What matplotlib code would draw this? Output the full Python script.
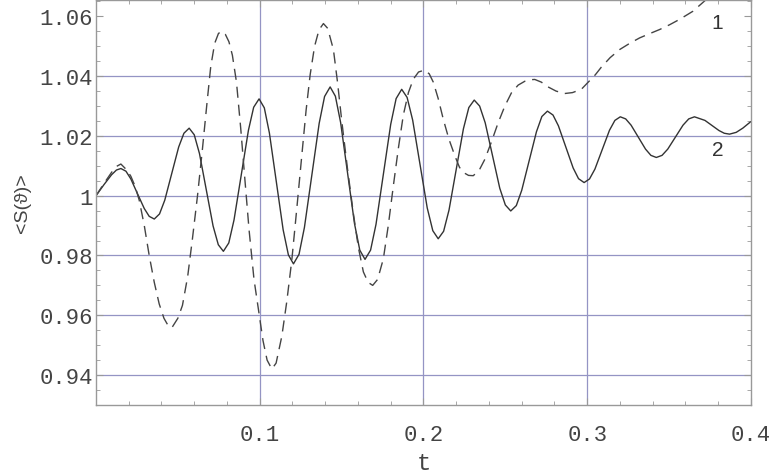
import matplotlib
matplotlib.use("Agg")
import matplotlib.pyplot as plt
from matplotlib.ticker import MultipleLocator

# curve 2 (solid)
t_solid = [0.0, 0.005, 0.0095, 0.0125, 0.0152,
           0.0183, 0.0213, 0.0254, 0.0295, 0.0325, 0.0356,
           0.0388, 0.0420, 0.04625, 0.0505, 0.0537, 0.0569,
           0.0600, 0.0632, 0.06735, 0.0715, 0.0747, 0.0778,
           0.0811, 0.0843, 0.0887, 0.0931, 0.0963, 0.0996,
           0.1028, 0.1059, 0.1101, 0.1143, 0.1175, 0.1206,
           0.1240, 0.1273, 0.1318, 0.1363, 0.1396, 0.1430,
           0.1462, 0.1494, 0.15365, 0.1579, 0.1611, 0.1643,
           0.1677, 0.1710, 0.1755, 0.1800, 0.1833, 0.1867,
           0.1900, 0.1934, 0.19785, 0.2023, 0.2057, 0.2090,
           0.2123, 0.2156, 0.2200, 0.2244, 0.2277, 0.2310,
           0.2343, 0.2377, 0.24215, 0.2466, 0.2500, 0.2533,
           0.2567, 0.2600, 0.2645, 0.2690, 0.2723, 0.2757,
           0.2791, 0.2824, 0.2869, 0.2914, 0.2947, 0.2981,
           0.3014, 0.3047, 0.30915, 0.3136, 0.3169, 0.3202,
           0.3235, 0.3268, 0.3312, 0.3356, 0.3389, 0.3422,
           0.3457, 0.3492, 0.35385, 0.3585, 0.3620, 0.3655,
           0.3719, 0.3762, 0.3805, 0.3837, 0.3869,
           0.3910, 0.3950, 0.3997]
s_solid = [1.0, 1.0038, 1.0070, 1.0086, 1.0091,
           1.0082, 1.0056, 1.0006, 0.9957, 0.9931, 0.9922,
           0.9939, 0.9985, 1.0074, 1.0163, 1.0209, 1.0226,
           1.0204, 1.0141, 1.0020, 0.9899, 0.9836, 0.9814,
           0.9842, 0.9919, 1.0069, 1.0219, 1.0296, 1.0324,
           1.0294, 1.0210, 1.0048, 0.9886, 0.9802, 0.9772,
           0.9804, 0.9894, 1.0068, 1.0242, 1.0332, 1.0364,
           1.0333, 1.0245, 1.00755, 0.9906, 0.9818, 0.9787,
           0.9818, 0.9904, 1.00715, 1.0239, 1.0325, 1.0356,
           1.0329, 1.0253, 1.0106, 0.9959, 0.9883, 0.9856,
           0.9881, 0.9952, 1.0088, 1.0224, 1.0295, 1.0320,
           1.0300, 1.0244, 1.01345, 1.0025, 0.9969, 0.9949,
           0.9967, 1.0018, 1.0116, 1.0214, 1.0265, 1.0283,
           1.0270, 1.0234, 1.01635, 1.0093, 1.0057, 1.0044,
           1.0056, 1.0089, 1.0154, 1.0219, 1.0252, 1.0264,
           1.0257, 1.0236, 1.0196, 1.0156, 1.0135, 1.0128,
           1.0135, 1.0156, 1.0196, 1.0236, 1.0257, 1.0264,
           1.0252, 1.0235, 1.0218, 1.0209, 1.0206,
           1.0212, 1.0226, 1.0247]

# curve 1 (dashed)
t_dash = [0.0, 0.005, 0.0095, 0.0125, 0.0152,
          0.0190, 0.0213, 0.0240, 0.0264, 0.0295, 0.0325, 0.0356, 0.0386,
          0.0415, 0.0440, 0.0463,
          0.0500, 0.0528, 0.0560, 0.0589, 0.0620, 0.0650, 0.0676, 0.0701,
          0.0725, 0.0748, 0.0768,
          0.0790, 0.0812, 0.0833, 0.0858, 0.0884, 0.0910, 0.0935, 0.0965,
          0.0996, 0.1020, 0.1045, 0.1074,
          0.1100, 0.1135, 0.1165, 0.1196, 0.1226, 0.1257, 0.1283, 0.1308,
          0.1335, 0.1362, 0.1389,
          0.1415, 0.1450, 0.1475, 0.1501, 0.1536, 0.1572, 0.1603, 0.1633,
          0.1662, 0.1690,
          0.1720, 0.1755, 0.1785, 0.1816, 0.1847, 0.1877, 0.1908, 0.1938,
          0.1970, 0.2005,
          0.2035, 0.2060, 0.2090, 0.2121, 0.2155, 0.2192, 0.2220, 0.2243,
          0.2275, 0.2304,
          0.2340, 0.2375, 0.2415, 0.2456, 0.2497, 0.2537, 0.2578, 0.2619,
          0.2650, 0.2680,
          0.2720, 0.2761, 0.2810, 0.2863, 0.2910, 0.2964, 0.3015, 0.3050,
          0.3086, 0.3140, 0.3198, 0.3260, 0.3320, 0.3380, 0.3442, 0.3503,
          0.3564, 0.3645, 0.3726, 0.3800]
s_dash = [1.0, 1.0042, 1.0078, 1.0098, 1.0106,
          1.0085, 1.0065, 1.0030, 0.9985, 0.9900, 0.9800, 0.9710, 0.9638,
          0.9590, 0.9566, 0.9558,
          0.9590, 0.9633, 0.9730, 0.9856, 1.0000, 1.0156, 1.0300, 1.0433,
          1.0510, 1.0543, 1.0550,
          1.0540, 1.0515, 1.0470, 1.0380, 1.0225, 1.0050, 0.9885, 0.9720,
          0.9605, 0.9515, 0.9450, 0.9420,
          0.9440, 0.9530, 0.9645, 0.9785, 0.9955, 1.0135, 1.0285, 1.0405,
          1.0500, 1.0555, 1.0576,
          1.0560, 1.0489, 1.0380, 1.0250, 1.0090, 0.9940, 0.9825, 0.9745,
          0.9710, 0.9700,
          0.9720, 0.9789, 0.9900, 1.0033, 1.0160, 1.0270, 1.0345, 1.0390,
          1.0414, 1.0420,
          1.0408, 1.0380, 1.0325, 1.0256, 1.0190, 1.0133, 1.0095, 1.0078,
          1.0068, 1.0067,
          1.0085, 1.0122, 1.0180, 1.0244, 1.0300, 1.0344, 1.0370, 1.0383,
          1.0388, 1.0389,
          1.0380, 1.0364, 1.0350, 1.0342, 1.0345, 1.0356, 1.0385, 1.0405,
          1.0430, 1.0462, 1.0489, 1.0510, 1.0528, 1.0542, 1.0556, 1.0572,
          1.0590, 1.0617, 1.0656, 1.0690]

x_ticks = [0.1, 0.2, 0.3, 0.4]
x_ticklabels = ["0.1", "0.2", "0.3", "0.4"]
y_ticks = [0.94, 0.96, 0.98, 1.00, 1.02, 1.04, 1.06]
y_ticklabels = ["0.94", "0.96", "0.98", "1", "1.02", "1.04", "1.06"]
grid_y = [0.94, 0.96, 0.98, 1.00, 1.02, 1.04]
grid_x = [0.1, 0.2, 0.3]

fig = plt.figure(figsize=(7.71, 4.77), dpi=100)
ax = fig.add_axes([0.1245, 0.149, 0.8495, 0.849])

gridcol = "#9494c4"
for g in grid_y:
    ax.axhline(g, color=gridcol, lw=0.9, zorder=0)
for g in grid_x:
    ax.axvline(g, color=gridcol, lw=0.9, zorder=0)

ax.plot(t_solid, s_solid, color="#333333", lw=1.0)
ax.plot(t_dash, s_dash, color="#444444", lw=1.0, dashes=(8, 5))

ax.set_xlim(0, 0.4)
ax.set_ylim(0.93, 1.0655)

mono = "Liberation Mono"
txtcol = "#444444"
ax.set_xticks(x_ticks)
ax.set_xticklabels(x_ticklabels, fontfamily=mono, fontsize=16, color=txtcol)
ax.set_yticks(y_ticks)
ax.set_yticklabels(y_ticklabels, fontfamily=mono, fontsize=16, color=txtcol)
ax.xaxis.set_minor_locator(MultipleLocator(0.02))
ax.yaxis.set_minor_locator(MultipleLocator(0.005))
ax.tick_params(which="both", direction="in", top=True, right=True, color="#999999")
ax.tick_params(which="major", length=5, pad=14)
ax.tick_params(which="minor", length=3)
ax.tick_params(axis="y", which="major", pad=2)
for sp in ax.spines.values():
    sp.set_color("#999999")
    sp.set_linewidth(1.0)

ax.set_xlabel("t", fontfamily=mono, fontsize=17, color=txtcol, labelpad=4)
ax.set_ylabel("<S(\u03d1)>", fontfamily="Liberation Sans", fontsize=14, color=txtcol, labelpad=6)

ax.text(0.3796, 1.0578, "1", fontfamily="Liberation Sans", fontsize=15, color="#333333",
        ha="center", va="center")
ax.text(0.3796, 1.0155, "2", fontfamily="Liberation Sans", fontsize=15, color="#333333",
        ha="center", va="center")

fig.savefig("out.png", dpi=100)
